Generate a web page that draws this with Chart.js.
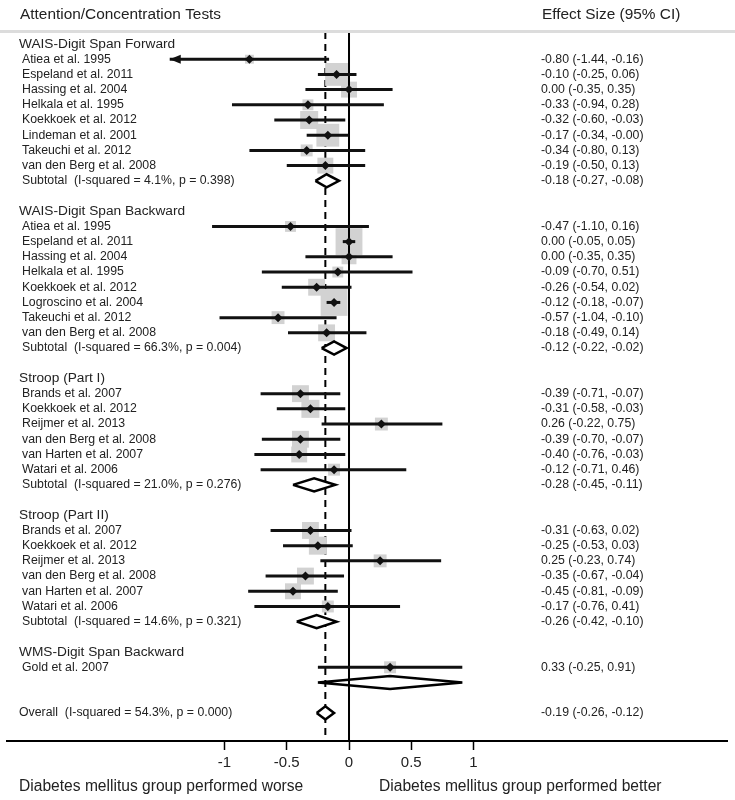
<!DOCTYPE html>
<html>
<head>
<meta charset="utf-8">
<script src="https://cdn.jsdelivr.net/npm/chart.js@4.4.1/dist/chart.umd.min.js"></script>
<style>
  html, body { margin: 0; padding: 0; background: #fff; }
</style>
</head>
<body>
<canvas id="forest" width="735" height="800"></canvas>
<script>
// subgroups, in plotting order
var groupNames = ["WAIS-Digit Span Forward", "WAIS-Digit Span Backward", "Stroop (Part I)", "Stroop (Part II)", "WMS-Digit Span Backward"];

// one entry per study
var studyNames = [
  "Atiea et al. 1995", "Espeland et al. 2011", "Hassing et al. 2004", "Helkala et al. 1995",
  "Koekkoek et al. 2012", "Lindeman et al. 2001", "Takeuchi et al. 2012", "van den Berg et al. 2008",
  "Atiea et al. 1995", "Espeland et al. 2011", "Hassing et al. 2004", "Helkala et al. 1995",
  "Koekkoek et al. 2012", "Logroscino et al. 2004", "Takeuchi et al. 2012", "van den Berg et al. 2008",
  "Brands et al. 2007", "Koekkoek et al. 2012", "Reijmer et al. 2013", "van den Berg et al. 2008", "van Harten et al. 2007", "Watari et al. 2006",
  "Brands et al. 2007", "Koekkoek et al. 2012", "Reijmer et al. 2013", "van den Berg et al. 2008", "van Harten et al. 2007", "Watari et al. 2006",
  "Gold et al. 2007"
];
var studyGroup = [0,0,0,0,0,0,0,0, 1,1,1,1,1,1,1,1, 2,2,2,2,2,2, 3,3,3,3,3,3, 4];
var effects = [-0.80,-0.10,0.00,-0.33,-0.32,-0.17,-0.34,-0.19, -0.47,0.00,0.00,-0.09,-0.26,-0.12,-0.57,-0.18, -0.39,-0.31,0.26,-0.39,-0.40,-0.12, -0.31,-0.25,0.25,-0.35,-0.45,-0.17, 0.33];
var lowers  = [-1.44,-0.25,-0.35,-0.94,-0.60,-0.34,-0.80,-0.50, -1.10,-0.05,-0.35,-0.70,-0.54,-0.18,-1.04,-0.49, -0.71,-0.58,-0.22,-0.70,-0.76,-0.71, -0.63,-0.53,-0.23,-0.67,-0.81,-0.76, -0.25];
var uppers  = [-0.16,0.06,0.35,0.28,-0.03,-0.004,0.13,0.13, 0.16,0.05,0.35,0.51,0.02,-0.07,-0.10,0.14, -0.07,-0.03,0.75,-0.07,-0.03,0.46, 0.02,0.03,0.74,-0.04,-0.09,0.41, 0.91];
// study weights (%)
var weights = [1.0,6.6,3.2,1.5,4.1,6.6,1.8,3.2, 1.5,9.1,2.8,1.5,3.6,9.1,2.1,3.6, 3.6,4.1,2.1,3.6,3.2,1.8, 3.6,4.1,2.1,3.6,3.2,1.8, 1.8];
var arrowLeft = [0]; // CI cut off on the left

// subtotals, one per group
var subLabels  = ["Subtotal  (I-squared = 4.1%, p = 0.398)", "Subtotal  (I-squared = 66.3%, p = 0.004)",
                  "Subtotal  (I-squared = 21.0%, p = 0.276)", "Subtotal  (I-squared = 14.6%, p = 0.321)", ""];
var subEffects = [-0.18, -0.12, -0.28, -0.26, 0.33];
var subLowers  = [-0.27, -0.22, -0.45, -0.42, -0.25];
var subUppers  = [-0.08, -0.02, -0.11, -0.10, 0.91];

var overallLabel = "Overall  (I-squared = 54.3%, p = 0.000)";
var overallEffect = -0.19, overallLower = -0.26, overallUpper = -0.12;

var tickValues = [-1, -0.5, 0, 0.5, 1];
var tickLabels = ["-1", "-0.5", "0", "0.5", "1"];

// ---- row layout ----
var studyRow = [], subRow = [], headRow = [];
var r = 0;
groupNames.forEach(function (g, gi) {
  headRow[gi] = r++;
  studyNames.forEach(function (n, i) { if (studyGroup[i] === gi) studyRow[i] = r++; });
  subRow[gi] = r++;
  r++;
});
var overallRow = r;
var rowTop = -0.79, rowBottom = overallRow + 1.85;
var DH = 0.43; // diamond half height in rows

function fmt(v) { return v.toFixed(2); }
function ciText(e, l, u) { return fmt(e) + " (" + fmt(l) + ", " + fmt(u) + ")"; }

var datasets = [];
// overall effect dashed line
datasets.push({ data: [{x: overallEffect, y: rowTop}, {x: overallEffect, y: rowBottom}],
  showLine: true, borderColor: '#000', borderWidth: 2, borderDash: [7, 5], pointRadius: 0, order: 60 });
// weight boxes
datasets.push({ data: effects.map(function (e, i) { return {x: e, y: studyRow[i]}; }),
  pointStyle: 'rect', backgroundColor: 'rgb(210,210,210)', borderWidth: 0,
  pointRadius: weights.map(function (w) { return 8.9 * Math.sqrt(w) / Math.SQRT2; }), order: 50 });
// diamonds
function diamond(e, l, u, row) {
  datasets.push({ data: [{x: l, y: row}, {x: e, y: row - DH}, {x: u, y: row}, {x: e, y: row + DH}, {x: l, y: row}],
    showLine: true, fill: 'shape', backgroundColor: '#fff', borderColor: '#000', borderWidth: 2.5,
    borderJoinStyle: 'miter', pointRadius: 0, order: 45 });
}
subEffects.forEach(function (e, gi) { diamond(e, subLowers[gi], subUppers[gi], subRow[gi]); });
diamond(overallEffect, overallLower, overallUpper, overallRow);
// null line
datasets.push({ data: [{x: 0, y: rowTop}, {x: 0, y: rowBottom}],
  showLine: true, borderColor: '#000', borderWidth: 2, pointRadius: 0, order: 40 });
// CI lines
effects.forEach(function (e, i) {
  datasets.push({ data: [{x: lowers[i], y: studyRow[i]}, {x: uppers[i], y: studyRow[i]}],
    showLine: true, borderColor: '#111', borderWidth: 3, pointRadius: 0, order: 30 });
});
// point estimates
datasets.push({ data: effects.map(function (e, i) { return {x: e, y: studyRow[i]}; }),
  pointStyle: 'rectRot', pointRadius: 4.5, backgroundColor: '#111', borderWidth: 0, order: 20 });

var FONT = '"Liberation Sans", Arial, sans-serif';
var textPlugin = {
  id: 'forestText',
  afterDraw: function (chart) {
    var ctx = chart.ctx, xs = chart.scales.x, ys = chart.scales.y, ca = chart.chartArea;
    ctx.save();
    // header rule
    ctx.fillStyle = '#dcdcdc';
    ctx.fillRect(0, ca.top - 2, 735, 3);
    // arrowheads
    ctx.fillStyle = '#111';
    arrowLeft.forEach(function (i) {
      var px = xs.getPixelForValue(lowers[i]), py = ys.getPixelForValue(studyRow[i]);
      ctx.beginPath();
      ctx.moveTo(px, py); ctx.lineTo(px + 11, py - 4.5); ctx.lineTo(px + 11, py + 4.5); ctx.closePath();
      ctx.fill();
    });
    ctx.fillStyle = '#222';
    ctx.textBaseline = 'middle';
    ctx.textAlign = 'left';
    ctx.font = '15.4px ' + FONT;
    ctx.fillText("Attention/Concentration Tests", 20, 15);
    ctx.fillText("Effect Size (95% CI)", 542, 15);
    ctx.font = '13.7px ' + FONT;
    groupNames.forEach(function (g, gi) { ctx.fillText(g, 19, ys.getPixelForValue(headRow[gi])); });
    ctx.font = '12.3px ' + FONT;
    studyNames.forEach(function (n, i) {
      var py = ys.getPixelForValue(studyRow[i]);
      ctx.fillText(n, 22, py);
      ctx.fillText(ciText(effects[i], lowers[i], uppers[i]), 541, py);
    });
    subLabels.forEach(function (s, gi) {
      if (!s) return;
      var py = ys.getPixelForValue(subRow[gi]);
      ctx.fillText(s, 22, py);
      ctx.fillText(ciText(subEffects[gi], subLowers[gi], subUppers[gi]), 541, py);
    });
    var oy = ys.getPixelForValue(overallRow);
    ctx.fillText(overallLabel, 19, oy);
    ctx.fillText(ciText(overallEffect, overallLower, overallUpper), 541, oy);
    ctx.font = '15.6px ' + FONT;
    ctx.fillText("Diabetes mellitus group performed worse", 19, 787);
    ctx.fillText("Diabetes mellitus group performed better", 379, 787);
    ctx.restore();
  }
};

new Chart(document.getElementById('forest'), {
  type: 'scatter',
  data: { datasets: datasets },
  options: {
    responsive: false,
    animation: false,
    layout: { autoPadding: false, padding: { left: 7, right: 8, top: 32, bottom: 24 } },
    plugins: { legend: { display: false }, tooltip: { enabled: false } },
    scales: {
      x: {
        type: 'linear', min: -2.747, max: 3.036,
        afterBuildTicks: function (scale) { scale.ticks = tickValues.map(function (v) { return {value: v}; }); },
        ticks: { callback: function (v) { return tickLabels[tickValues.indexOf(v)]; },
                 color: '#222', font: { family: FONT, size: 15 }, padding: 4, maxRotation: 0, autoSkip: false },
        grid: { display: true, drawOnChartArea: false, drawTicks: true, tickLength: 9, tickColor: '#000', tickWidth: 1.5 },
        border: { display: true, color: '#000', width: 2 }
      },
      y: { type: 'linear', reverse: true, min: rowTop, max: rowBottom, display: false }
    }
  },
  plugins: [textPlugin]
});
</script>
</body>
</html>
